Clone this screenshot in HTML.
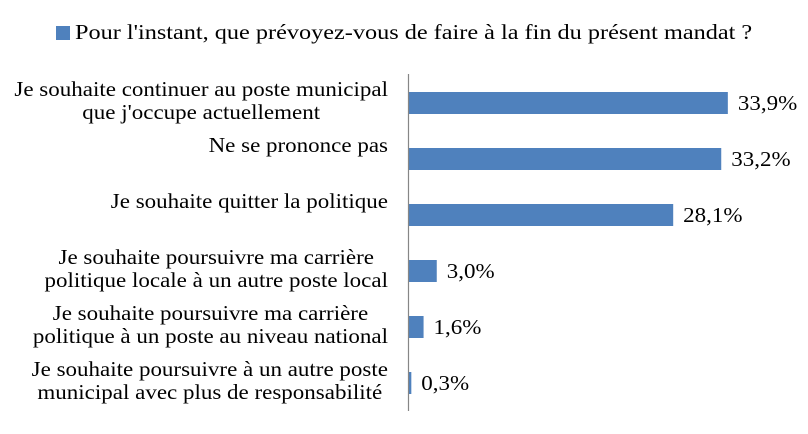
<!DOCTYPE html>
<html><head><meta charset="utf-8"><style>
html,body{margin:0;padding:0;background:#fff}
svg{display:block;font-family:"Liberation Serif",serif}
</style></head><body>
<svg id="chart" width="808" height="434" viewBox="0 0 808 434">
<rect x="56" y="26" width="14" height="14" fill="#4f81bd"/>
<text id="legendText" x="75" y="39" font-size="21" fill="#000">Pour l'instant, que prévoyez-vous de faire à la fin du présent mandat ?</text>
<g id="bars"></g>
<line x1="408.5" y1="74" x2="408.5" y2="411" stroke="#868686" stroke-width="1.2"/>
</svg>
<script>
const categories = [
  ["Je souhaite continuer au poste municipal","que j'occupe actuellement"],
  ["Ne se prononce pas"],
  ["Je souhaite quitter la politique"],
  ["Je souhaite poursuivre ma carrière","politique locale à un autre poste local"],
  ["Je souhaite poursuivre ma carrière","politique à un poste au niveau national"],
  ["Je souhaite poursuivre à un autre poste","municipal avec plus de responsabilité"]
];
const values = [33.9, 33.2, 28.1, 3.0, 1.6, 0.3];
const valueLabels = ["33,9%","33,2%","28,1%","3,0%","1,6%","0,3%"];

const NS = "http://www.w3.org/2000/svg";
const g = document.getElementById('bars');
const x0 = 408.5, pxPer = 9.42;
const xScale = v => x0 + v * pxPer;
const rowTop = 92, rowPitch = 56, barH = 22;
const yCenter = i => rowTop + i * rowPitch + barH / 2;
const stretch = 1.095;

function fit(el, s){
  el.setAttribute('lengthAdjust', 'spacingAndGlyphs');
  const w = el.getComputedTextLength() * (s || stretch);
  el.setAttribute('textLength', w.toFixed(1));
  return w;
}
fit(document.getElementById('legendText'), 1.155);

values.forEach((v, i) => {
  const c = yCenter(i);
  const r = document.createElementNS(NS, 'rect');
  
  
  r.setAttribute('x', x0);
  r.setAttribute('y', c - barH / 2);
  r.setAttribute('width', Math.max(xScale(v) - x0, 0));
  r.setAttribute('height', barH);
  r.setAttribute('fill', '#4f81bd');
  g.appendChild(r);

  const t = document.createElementNS(NS, 'text');
  
  
  t.setAttribute('x', xScale(v) + 10);
  t.setAttribute('y', c + 7);
  t.setAttribute('font-size', '21');
  t.textContent = valueLabels[i];
  g.appendChild(t);
  fit(t);

  const lines = categories[i];
  const els = lines.map((ln, k) => {
    const lt = document.createElementNS(NS, 'text');
    
    
    lt.setAttribute('y', c - 7 + k * 23);
    lt.setAttribute('font-size', '21');
    lt.setAttribute('text-anchor', 'middle');
    lt.textContent = ln;
    g.appendChild(lt);
    return lt;
  });
  const widths = els.map(e => fit(e));
  const bw = Math.max(...widths);
  const cx = 388 - bw / 2;
  els.forEach(e => e.setAttribute('x', cx));
});
</script>
</body></html>
